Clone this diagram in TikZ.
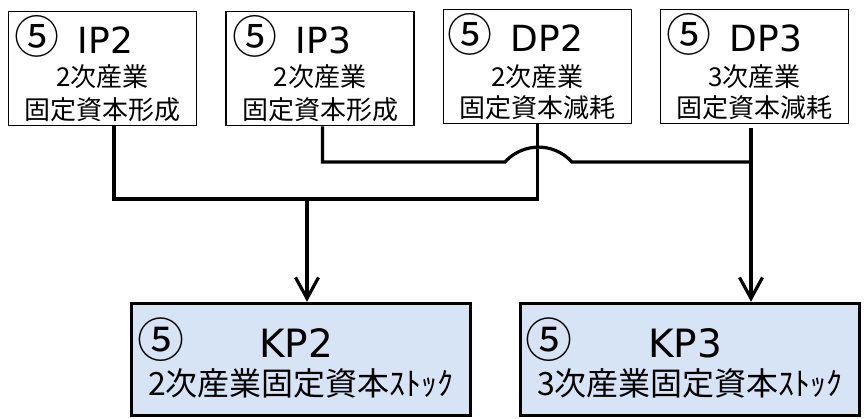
\documentclass[tikz,border=0pt]{standalone}
\usepackage{fontspec}
\setmainfont{DejaVu Sans}
\newfontfamily\cjk{Noto Sans CJK JP}
\usetikzlibrary{arrows.meta,calc}
\definecolor{kpfill}{HTML}{D7E4F5}
\newcommand{\circfive}[1]{{\cjk\fontsize{#1}{#1}\selectfont ⑤}}
\begin{document}
\begin{tikzpicture}[x=1pt,y=-1pt,
  topbox/.style={draw, line width=1.5pt, minimum width=188pt, minimum height=114pt, inner sep=0pt, anchor=north west},
  kpbox/.style={draw, fill=kpfill, line width=3.5pt, minimum width=339pt, minimum height=112pt, inner sep=0pt, anchor=north west},
  headtxt/.style={anchor=base west, inner sep=0pt, font=\fontsize{36}{40}\selectfont},
  kphead/.style={anchor=base west, inner sep=0pt, font=\fontsize{39}{44}\selectfont},
  subtxt/.style={anchor=center, inner sep=0pt, font=\cjk\fontsize{26}{30}\selectfont},
  kpsub/.style={anchor=center, inner sep=0pt, font=\cjk\fontsize{32}{36}\selectfont},
  conn/.style={line width=3.2pt, line join=miter},
  arr/.style={conn, -{Straight Barb[length=21pt,width=23pt]}}
]
\useasboundingbox (0,0) rectangle (864,418);

% top boxes
\node[topbox] (ip2) at (7.75,10.75) {};
\node[topbox] (ip3) at (225.25,10.75) {};
\node[topbox] (dp2) at (442.75,8.75) {};
\node[topbox] (dp3) at (659.75,8.75) {};

\node[headtxt] (ip2a) at (14.5,53) {\circfive{45}\hspace{18pt}IP2};
\node[subtxt] (ip2b) at ($(ip2.north)+(0,66)$) {2次産業};
\node[subtxt] (ip2c) at ($(ip2.north)+(0,99)$) {固定資本形成};

\node[headtxt] (ip3a) at (232.5,53) {\circfive{45}\hspace{18pt}IP3};
\node[subtxt] (ip3b) at ($(ip3.north)+(0,66)$) {2次産業};
\node[subtxt] (ip3c) at ($(ip3.north)+(0,99)$) {固定資本形成};

\node[headtxt] (dp2a) at (447.5,51) {\circfive{45}\hspace{18pt}DP2};
\node[subtxt] (dp2b) at ($(dp2.north)+(0,68)$) {2次産業};
\node[subtxt] (dp2c) at ($(dp2.north)+(0,99)$) {固定資本減耗};

\node[headtxt] (dp3a) at (666.5,51) {\circfive{45}\hspace{18pt}DP3};
\node[subtxt] (dp3b) at ($(dp3.north)+(0,68)$) {3次産業};
\node[subtxt] (dp3c) at ($(dp3.north)+(0,99)$) {固定資本減耗};

% bottom boxes
\node[kpbox] (kp2) at (129.75,301.75) {};
\node[kpbox] (kp3) at (518.75,301.75) {};

\node[kphead] (kp2a) at (137,357) {\circfive{47}\hspace{75pt}KP2};
\node[kpsub] (kp2b) at ($(kp2.north)+(0,82)$) {2次産業固定資本ｽﾄｯｸ};
\node[kphead] (kp3a) at (525,357) {\circfive{47}\hspace{76pt}KP3};
\node[kpsub] (kp3b) at ($(kp3.north)+(0,82)$) {3次産業固定資本ｽﾄｯｸ};

% connectors
\coordinate (hlow) at (0,199);
\coordinate (jl) at (307,199);
\coordinate (dp3s) at (751,128);
\coordinate (jr) at (751,162);
\coordinate (bumpl) at (505,162);

\draw[conn] ($(ip2.south)+(11.5,0)$) |- (dp2.south |- hlow) -- (dp2.south);
\draw[conn] ($(ip3.south)+(2.5,0)$) |- (bumpl)
  arc[start angle=222, end angle=318, radius=45] -- (jr);
\draw[conn] (dp3s) -- (jr);
\draw[arr] (jl) -- (jl |- kp2.north);
\draw[arr] (jr) -- (jr |- kp3.north);
\end{tikzpicture}
\end{document}
